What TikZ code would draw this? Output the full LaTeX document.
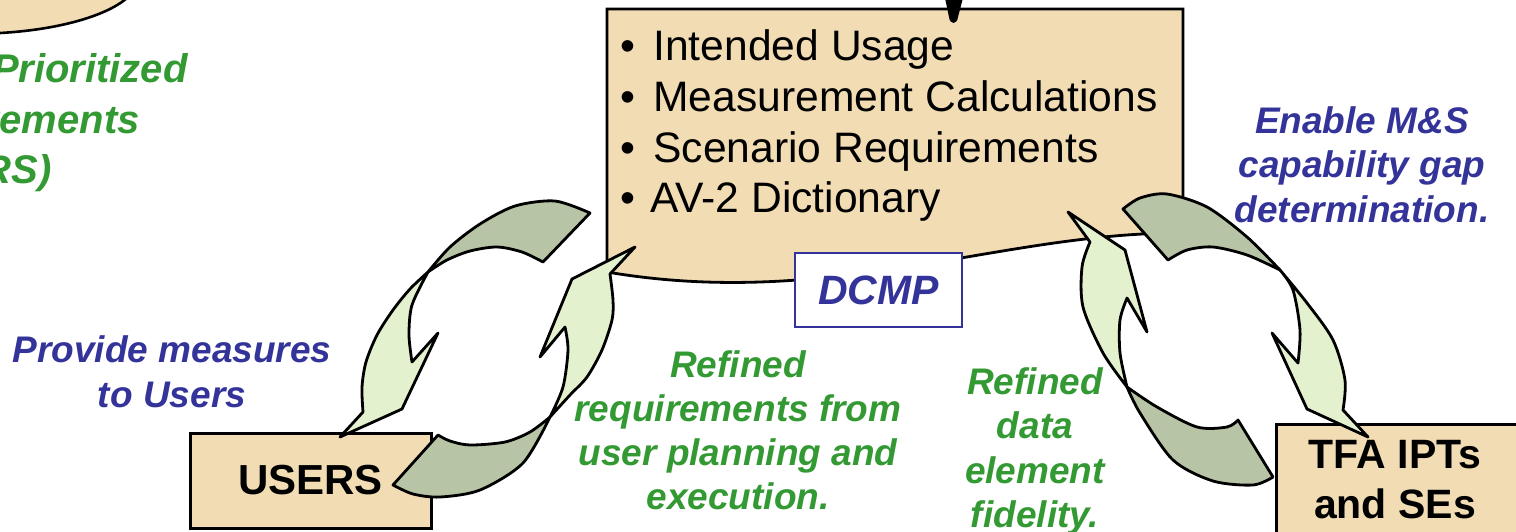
\documentclass[tikz,border=0pt]{standalone}
\usepackage{fontspec}
\setmainfont{Liberation Sans}
\definecolor{tanc}{HTML}{F1DCB4}
\definecolor{darkg}{HTML}{B8C4A6}
\definecolor{lightg}{HTML}{E3F1CE}
\definecolor{bluet}{HTML}{333399}
\definecolor{greent}{HTML}{339933}
\begin{document}
\begin{tikzpicture}[x=0.5pt,y=-0.5pt,
  boxst/.style={draw=black,line width=1.5pt,fill=tanc,inner sep=0pt},
  darkarrow/.style={draw=black,line width=1.4pt,fill=darkg,line join=round},
  lightarrow/.style={draw=black,line width=1.4pt,fill=lightg,line join=round},
  bultxt/.style={font=\fontsize{21.3}{24}\selectfont,anchor=base west,inner sep=0pt},
  bluelab/.style={font=\bfseries\itshape\fontsize{18.5}{22}\selectfont,text=bluet,anchor=base,inner sep=0pt},
  greenlab/.style={font=\bfseries\itshape\fontsize{18.5}{22}\selectfont,text=greent,anchor=base,inner sep=0pt},
  greenbig/.style={font=\bfseries\itshape\fontsize{20}{24}\selectfont,text=greent,anchor=base east,inner sep=0pt},
  boxtxt/.style={font=\bfseries\fontsize{20.5}{24}\selectfont,anchor=base,inner sep=0pt}]
\useasboundingbox (0,0) rectangle (1516,531);
\clip (0,0) rectangle (1516,531);

% top-left ellipse fragment
\fill[tanc] (0,-2) -- (0,33) .. controls (55,30) and (105,17) .. (127,-2) -- cycle;
\draw[line width=1.3pt] (0,33) .. controls (55,30) and (105,17) .. (127,-2);

% left green text (cut off)
\node[greenbig] (p1) at (188,82) {Prioritized};
\node[greenbig] (p2) at (140,133) {Requirements};
\node[greenbig] (p3) at (52,183) {(RS)};

% DCMP document box
\coordinate (doc) at (895,140);
\draw[line width=1.4pt,fill=tanc] (607,9) -- (1183,9) -- (1183,233)
  .. controls (1000,232) and (830,310) .. (607,272) -- cycle;

% black arrow tip at top
\fill[black] (945,-2) -- (963,-2) -- (958,17) .. controls (957,25) and (950,25) .. (949,17) -- cycle;

% bullet list
\node[bultxt] (b1) at (620,60) {\textbullet};
\node[bultxt] (t1) at (653,60) {Intended Usage};
\node[bultxt] (b2) at (620,111) {\textbullet};
\node[bultxt] (t2) at (653,111) {Measurement Calculations};
\node[bultxt] (b3) at (620,162) {\textbullet};
\node[bultxt] (t3) at (653,162) {Scenario Requirements};
\node[bultxt] (b4) at (620,212) {\textbullet};
\node[bultxt] (t4) at (650,212) {AV-2 Dictionary};

% DCMP label
\node[draw=bluet,line width=1pt,fill=white,minimum width=83.5pt,minimum height=37pt,inner sep=0pt,
  font=\bfseries\itshape\fontsize{20.5}{22}\selectfont,text=bluet] (dcmp) at (878.5,290) {DCMP};

% USERS box
\node[boxst,minimum width=120.5pt,minimum height=47.5pt,font=\bfseries\fontsize{21}{24}\selectfont] (users) at (310.5,480.5) {USERS};

% TFA box
\node[boxst,anchor=north west,minimum width=130pt,minimum height=60pt] (tfa) at (1275,423) {};
\node[boxtxt] (tfa1) at (1395,468) {TFA IPTs};
\node[boxtxt] (tfa2) at (1395,518) {and SEs};

% left cycle
\filldraw[darkarrow] plot[smooth] coordinates {(590,213) (555,201) (515,206) (480,224) (450,247) (428,272)}
  -- plot[smooth] coordinates {(428,272) (447,260) (470,251) (497,247) (522,252) (543,262)} -- cycle;
\filldraw[lightarrow] plot[smooth] coordinates {(428,272) (410,289) (393,310) (377,335) (366,362) (362,387) (363,412)}
  -- (340,437) -- (402,409) -- (438,333) -- (412,362)
  -- plot[smooth] coordinates {(412,362) (409,335) (412,305) (428,272)} -- cycle;
\filldraw[darkarrow] plot[smooth] coordinates {(393,485) (413,494) (440,497) (480,490) (523,463) (550,417)}
  -- plot[smooth] coordinates {(550,417) (530,432) (505,442) (470,445) (450,441) (438,435)} -- cycle;
\filldraw[lightarrow] plot[smooth] coordinates {(550,417) (570,395) (587,377) (602,350) (612,320) (613,300) (610,274)}
  -- (635,247) -- (572,279) -- (540,357) -- (565,327)
  -- plot[smooth] coordinates {(565,327) (568,350) (563,387) (550,417)} -- cycle;

% right cycle
\filldraw[darkarrow] plot[smooth] coordinates {(1123,209) (1140,198) (1167,194) (1207,207) (1247,237) (1280,270)}
  -- plot[smooth] coordinates {(1280,270) (1247,255) (1213,247) (1187,250) (1168,260)} -- cycle;
\filldraw[lightarrow] plot[smooth] coordinates {(1280,270) (1307,303) (1333,340) (1345,380) (1343,410)}
  -- (1368,437) -- (1307,409) -- (1272,333) -- (1298,363)
  -- plot[smooth] coordinates {(1298,363) (1300,330) (1293,290) (1280,270)} -- cycle;
\filldraw[darkarrow] plot[smooth] coordinates {(1238,420) (1227,427) (1197,427) (1157,407) (1127,387)}
  -- plot[smooth] coordinates {(1127,387) (1140,413) (1173,460) (1213,481) (1253,485) (1273,477)} -- cycle;
\filldraw[lightarrow] plot[smooth] coordinates {(1127,387) (1103,353) (1083,307) (1082,267) (1090,242)}
  -- (1068,212) -- (1125,250) -- (1147,332) -- (1127,298)
  -- plot[smooth] coordinates {(1127,298) (1120,320) (1120,353) (1127,387)} -- cycle;

% labels
\node[bluelab] (e1) at (1362,133) {Enable M\&S};
\node[bluelab] (e2) at (1362,177.5) {capability gap};
\node[bluelab] (e3) at (1362,222) {determination.};

\node[bluelab] (m1) at (172,362) {Provide measures};
\node[bluelab] (m2) at (172,407) {to Users};

\node[greenlab] (r1) at (738,377) {Refined};
\node[greenlab] (r2) at (738,421) {requirements from};
\node[greenlab] (r3) at (738,465) {user planning and};
\node[greenlab] (r4) at (738,509) {execution.};

\node[greenlab] (d1) at (1035,394) {Refined};
\node[greenlab] (d2) at (1035,438.5) {data};
\node[greenlab] (d3) at (1035,483) {element};
\node[greenlab] (d4) at (1035,527) {fidelity.};
\end{tikzpicture}
\end{document}
